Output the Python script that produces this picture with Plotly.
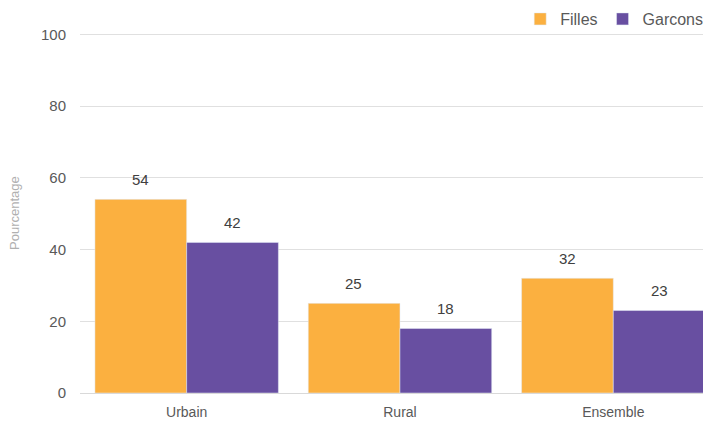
import plotly.graph_objs as go

# data
categories = ['Urbain', 'Rural', 'Ensemble']
filles = [54, 25, 32]
garcons = [42, 18, 23]

ORANGE = '#FBB040'
PURPLE = '#684FA1'
TXT = '#595959'

# page body has an 8px margin, so the figure is a bit smaller than the window
W, H = 703, 413

fig = go.Figure()
fig.add_trace(go.Bar(x=categories, y=filles, name='Filles', marker_color=ORANGE))
fig.add_trace(go.Bar(x=categories, y=garcons, name='Garcons', marker_color=PURPLE))

# value labels above bars
for vals, shift in [(filles, -46), (garcons, 46)]:
    for c, v in zip(categories, vals):
        fig.add_annotation(x=c, y=v, text=str(v), showarrow=False,
                           xshift=shift, yshift=20, yanchor='middle',
                           font=dict(size=15, color='#404040'))

# y axis title placed by hand so it does not move the margin
fig.add_annotation(xref='paper', yref='paper', x=-66 / 631, y=0.5,
                   text='Pourcentage', textangle=-90, showarrow=False,
                   xanchor='center', yanchor='middle',
                   font=dict(size=13, color='#b0b0b0'))

fig.update_layout(
    width=W, height=H,
    margin=dict(l=72, r=0, t=25, b=28, autoexpand=False),
    paper_bgcolor='white', plot_bgcolor='white',
    font=dict(family='Liberation Sans', size=14, color=TXT),
    barmode='group', bargap=0.14, bargroupgap=0,
    showlegend=True,
    legend=dict(orientation='h', xref='container', yref='container',
                x=0.996, xanchor='right', y=1 - 11 / H, yanchor='middle',
                font=dict(size=16, color=TXT), itemwidth=30,
                tracegroupgap=0, bgcolor='rgba(0,0,0,0)'),
    xaxis=dict(range=[-0.5, 2.458], showline=True, linecolor='#d9d9d9',
               linewidth=1, ticks='', ticklabelstandoff=6,
               tickfont=dict(size=14, color=TXT)),
    yaxis=dict(range=[0, 100.4], dtick=20, showgrid=True, gridcolor='#e0e0e0',
               zeroline=False, ticks='', ticklabelstandoff=13, automargin=False,
               tickfont=dict(size=15, color=TXT)),
)

fig.write_html("out.html")
